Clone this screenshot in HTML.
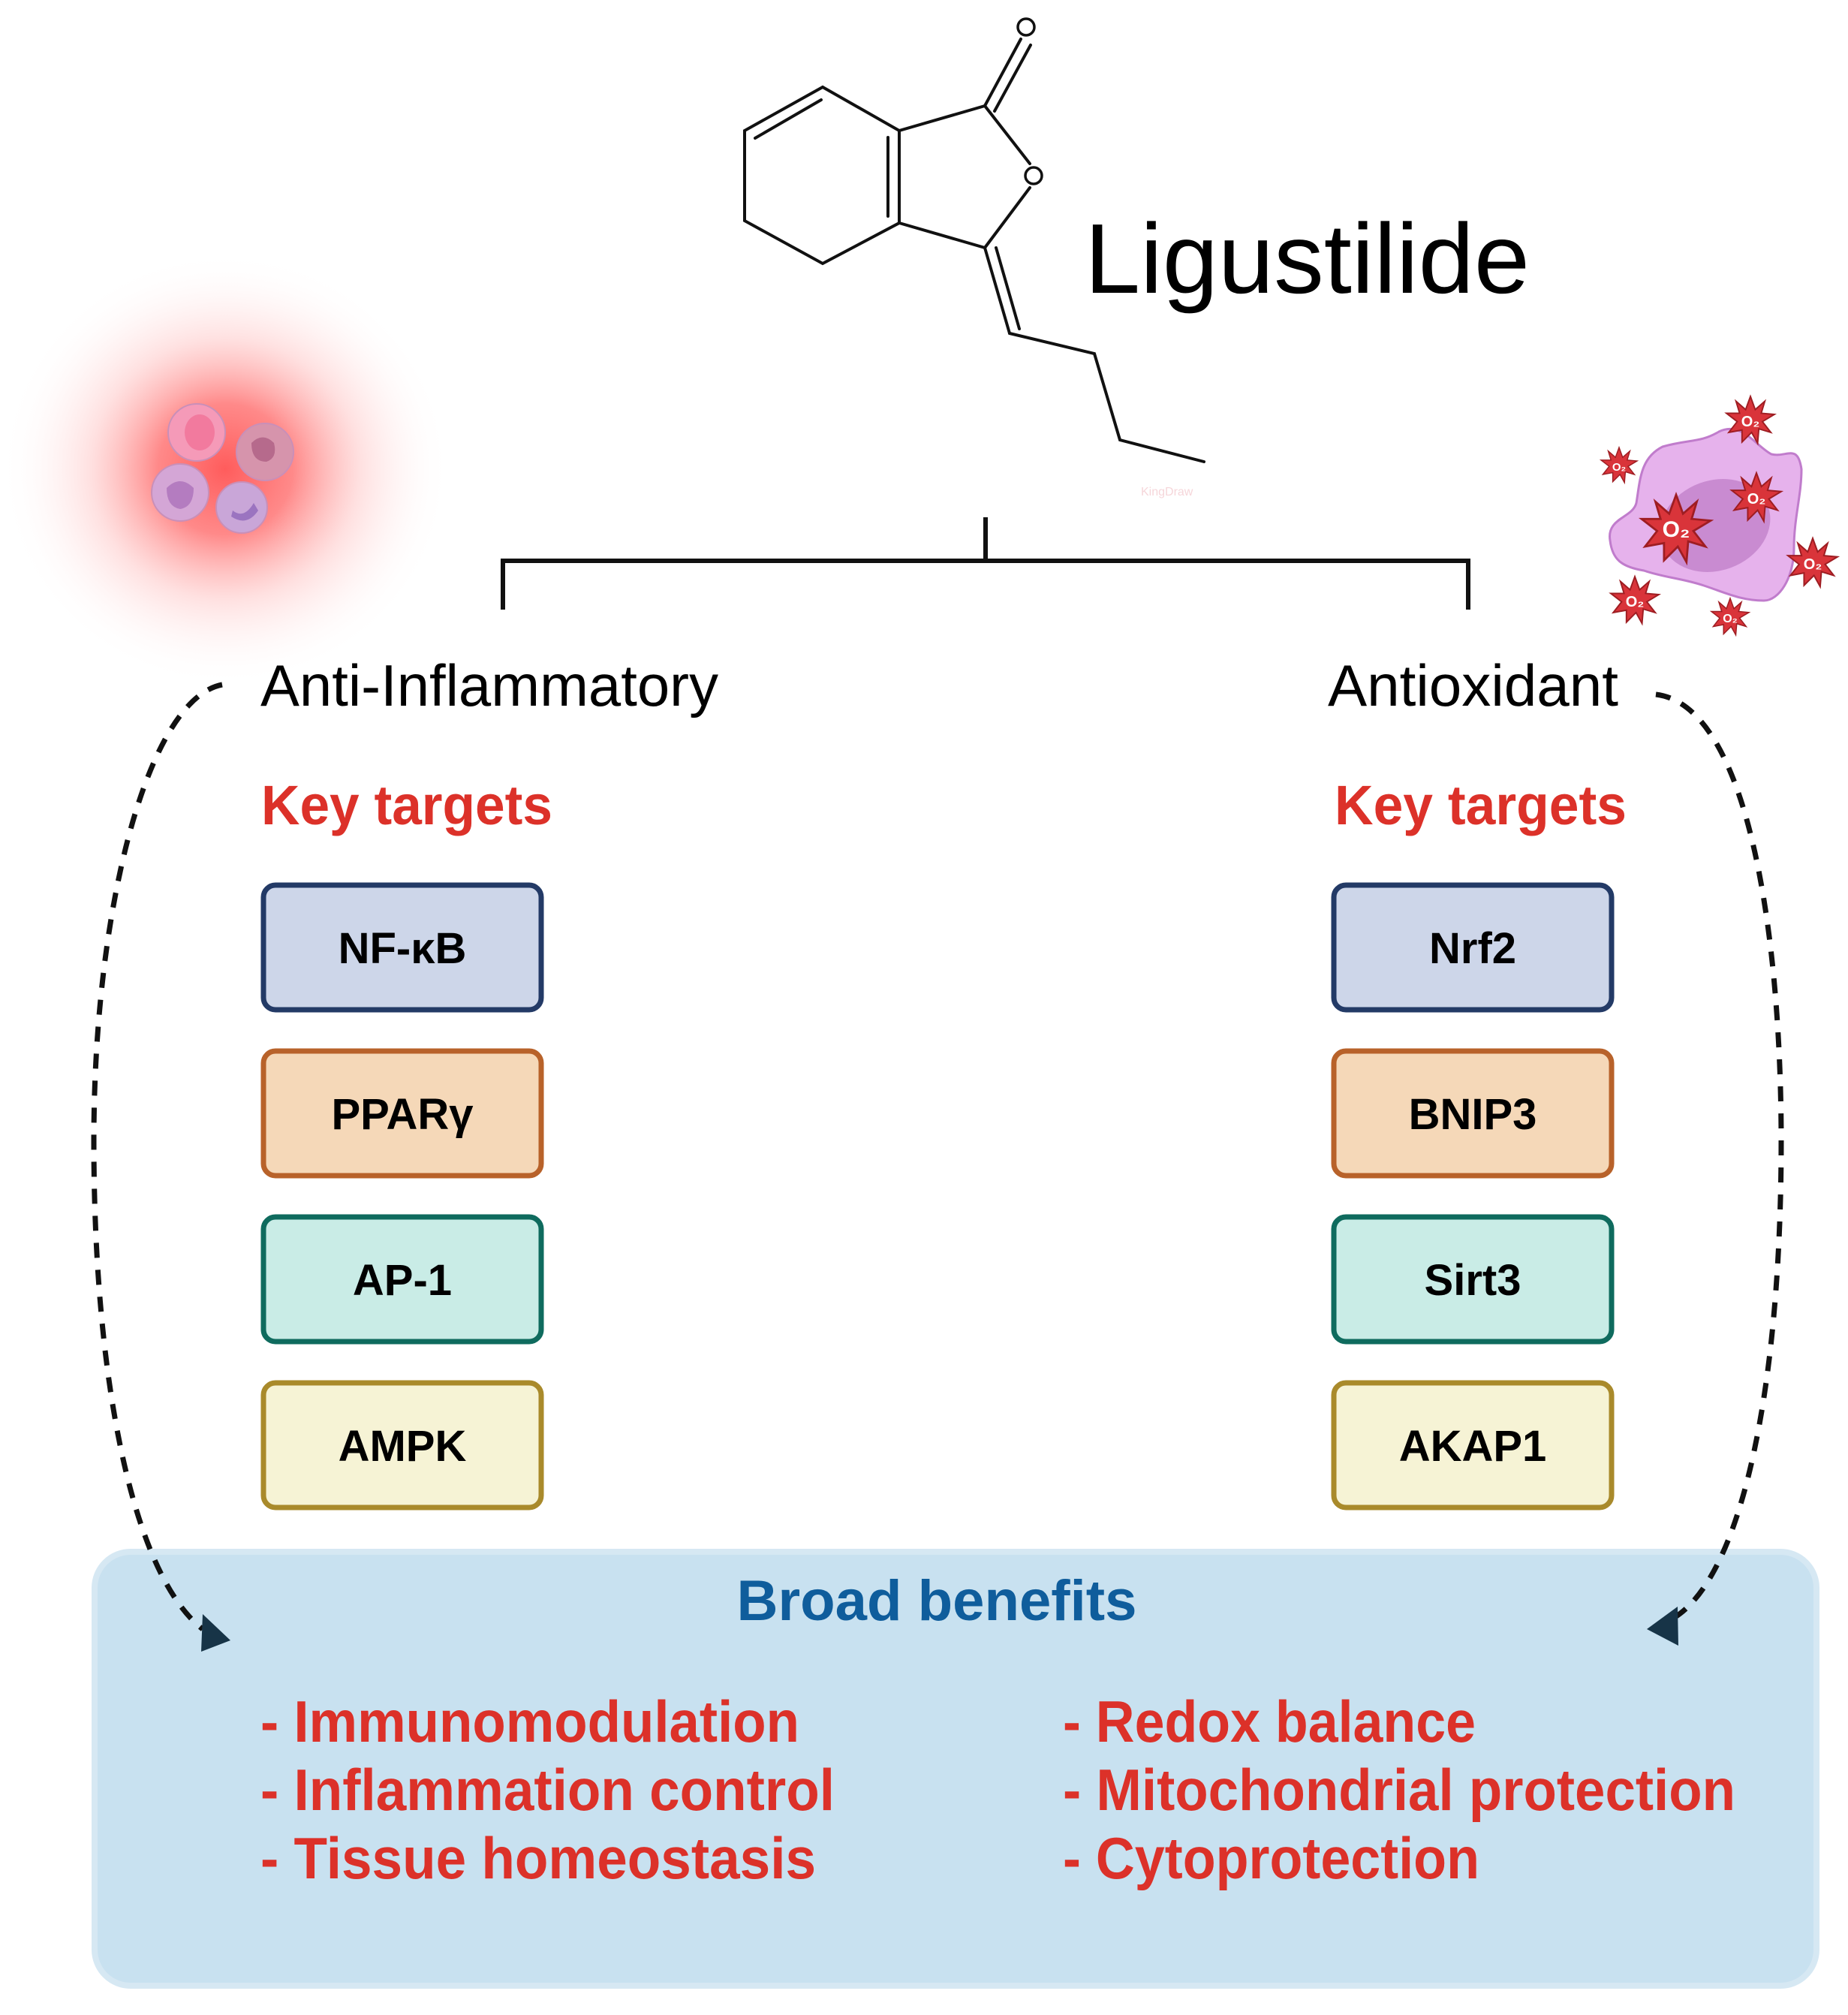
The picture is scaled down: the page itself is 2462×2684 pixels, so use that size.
<!DOCTYPE html>
<html><head><meta charset="utf-8"><style>
html,body{margin:0;padding:0;background:#fff;}
svg{display:block;}
</style></head><body>
<svg width="2462" height="2684" viewBox="0 0 2462 2684" xmlns="http://www.w3.org/2000/svg" font-family="Liberation Sans, sans-serif">
<defs>
<radialGradient id="glow" cx="0.5" cy="0.5" r="0.5">
<stop offset="0" stop-color="#ff4a4a" stop-opacity="0.9"/>
<stop offset="0.3" stop-color="#ff6262" stop-opacity="0.75"/>
<stop offset="0.6" stop-color="#ffa8a8" stop-opacity="0.35"/>
<stop offset="0.85" stop-color="#ffdede" stop-opacity="0.12"/>
<stop offset="1" stop-color="#ffffff" stop-opacity="0"/>
</radialGradient>
</defs>
<rect width="2462" height="2684" fill="#fff"/>

<!-- inflammation glow -->
<ellipse cx="300" cy="625" rx="300" ry="290" fill="url(#glow)"/>
<g stroke="#c98fb8" stroke-width="2">
<circle cx="262" cy="576" r="38" fill="#f59ab8"/>
<ellipse cx="266" cy="576" rx="20" ry="24" fill="#f27a9e" stroke="none"/>
<circle cx="353" cy="602" r="38" fill="#d694ac"/>
<path d="M335 590 q15 -15 30 0 q5 20 -10 25 q-20 0 -20 -25z" fill="#b66a8c" stroke="none"/>
<circle cx="240" cy="656" r="38" fill="#d4a6d6"/>
<path d="M222 650 q18 -18 36 0 q0 25 -18 28 q-18 -3 -18 -28z" fill="#b47cc0" stroke="none"/>
<circle cx="322" cy="676" r="34" fill="#c9a6d8"/>
<path d="M310 680 q15 12 28 -10 l6 10 q-15 22 -36 8z" fill="#9b74c0" stroke="none"/>
</g>

<!-- ROS cell -->
<path d="M2145 720 C2140 690 2175 690 2180 670 C2185 640 2185 610 2215 595 C2250 585 2265 590 2290 575 C2320 560 2340 595 2360 605 C2380 610 2395 590 2400 625 C2400 660 2390 690 2390 730 C2390 770 2370 800 2350 800 C2320 800 2300 790 2270 780 C2240 770 2220 770 2190 760 C2160 755 2148 745 2145 720Z" fill="#e6b2ec" stroke="#c07ccc" stroke-width="3"/>
<ellipse cx="2285" cy="700" rx="75" ry="60" fill="#c98bd1" transform="rotate(-20 2285 700)"/>
<g fill="#d9343a" stroke="#9e1d22" stroke-width="0.06">
<polygon points="0,-1 0.2,-0.45 0.6,-0.8 0.45,-0.3 1,-0.25 0.5,0.05 0.85,0.5 0.35,0.35 0.3,0.95 0.05,0.5 -0.35,0.9 -0.35,0.4 -0.9,0.5 -0.55,0.05 -1,-0.3 -0.45,-0.3 -0.6,-0.8 -0.2,-0.45" transform="translate(2332,560) scale(32)"/>
<polygon points="0,-1 0.2,-0.45 0.6,-0.8 0.45,-0.3 1,-0.25 0.5,0.05 0.85,0.5 0.35,0.35 0.3,0.95 0.05,0.5 -0.35,0.9 -0.35,0.4 -0.9,0.5 -0.55,0.05 -1,-0.3 -0.45,-0.3 -0.6,-0.8 -0.2,-0.45" transform="translate(2157,620) scale(24)"/>
<polygon points="0,-1 0.2,-0.45 0.6,-0.8 0.45,-0.3 1,-0.25 0.5,0.05 0.85,0.5 0.35,0.35 0.3,0.95 0.05,0.5 -0.35,0.9 -0.35,0.4 -0.9,0.5 -0.55,0.05 -1,-0.3 -0.45,-0.3 -0.6,-0.8 -0.2,-0.45" transform="translate(2233,705) scale(46)"/>
<polygon points="0,-1 0.2,-0.45 0.6,-0.8 0.45,-0.3 1,-0.25 0.5,0.05 0.85,0.5 0.35,0.35 0.3,0.95 0.05,0.5 -0.35,0.9 -0.35,0.4 -0.9,0.5 -0.55,0.05 -1,-0.3 -0.45,-0.3 -0.6,-0.8 -0.2,-0.45" transform="translate(2340,663) scale(33)"/>
<polygon points="0,-1 0.2,-0.45 0.6,-0.8 0.45,-0.3 1,-0.25 0.5,0.05 0.85,0.5 0.35,0.35 0.3,0.95 0.05,0.5 -0.35,0.9 -0.35,0.4 -0.9,0.5 -0.55,0.05 -1,-0.3 -0.45,-0.3 -0.6,-0.8 -0.2,-0.45" transform="translate(2415,750) scale(33)"/>
<polygon points="0,-1 0.2,-0.45 0.6,-0.8 0.45,-0.3 1,-0.25 0.5,0.05 0.85,0.5 0.35,0.35 0.3,0.95 0.05,0.5 -0.35,0.9 -0.35,0.4 -0.9,0.5 -0.55,0.05 -1,-0.3 -0.45,-0.3 -0.6,-0.8 -0.2,-0.45" transform="translate(2178,800) scale(32)"/>
<polygon points="0,-1 0.2,-0.45 0.6,-0.8 0.45,-0.3 1,-0.25 0.5,0.05 0.85,0.5 0.35,0.35 0.3,0.95 0.05,0.5 -0.35,0.9 -0.35,0.4 -0.9,0.5 -0.55,0.05 -1,-0.3 -0.45,-0.3 -0.6,-0.8 -0.2,-0.45" transform="translate(2305,822) scale(25)"/>
</g>
<g fill="#fff" font-weight="bold" text-anchor="middle">
<text x="2332" y="568" font-size="20">O₂</text>
<text x="2157" y="627" font-size="15">O₂</text>
<text x="2233" y="715" font-size="30">O₂</text>
<text x="2340" y="671" font-size="20">O₂</text>
<text x="2415" y="758" font-size="20">O₂</text>
<text x="2178" y="808" font-size="20">O₂</text>
<text x="2305" y="829" font-size="16">O₂</text>
</g>

<!-- molecule -->
<g stroke="#111" stroke-width="4" fill="none" stroke-linecap="round">
<polyline points="1096,116 992,174 992,294 1096,351 1198,297 1198,174 1096,116"/>
<line x1="1006" y1="184" x2="1094" y2="133"/>
<line x1="1183" y1="183" x2="1183" y2="288"/>
<line x1="1198" y1="174" x2="1312" y2="141"/>
<line x1="1312" y1="141" x2="1372" y2="218"/>
<line x1="1372" y1="250" x2="1312" y2="330"/>
<line x1="1198" y1="297" x2="1312" y2="330"/>
<line x1="1312" y1="141" x2="1360" y2="52"/>
<line x1="1325" y1="148" x2="1373" y2="60"/>
<line x1="1312" y1="330" x2="1345" y2="444"/>
<line x1="1327" y1="330" x2="1358" y2="438"/>
<polyline points="1345,444 1458,471 1492,586 1604,615"/>
</g>
<circle cx="1367" cy="36" r="11" fill="none" stroke="#111" stroke-width="3.5"/>
<circle cx="1377" cy="234" r="11" fill="none" stroke="#111" stroke-width="3.5"/>
<text x="1520" y="660" font-size="16" fill="#f6d6da">KingDraw</text>
<text x="1445" y="390" font-size="132" fill="#000" textLength="593" lengthAdjust="spacingAndGlyphs">Ligustilide</text>

<!-- bracket -->
<g stroke="#111" stroke-width="6" fill="none">
<line x1="1313" y1="689" x2="1313" y2="747"/>
<polyline points="670,812 670,747 1956,747 1956,812"/>
</g>

<!-- headings -->
<text x="347" y="940" font-size="78" fill="#000" textLength="610" lengthAdjust="spacingAndGlyphs">Anti-Inflammatory</text>
<text x="1769" y="940" font-size="78" fill="#000" textLength="387" lengthAdjust="spacingAndGlyphs">Antioxidant</text>
<text x="348" y="1098" font-size="74" font-weight="bold" fill="#dc3129" textLength="388" lengthAdjust="spacingAndGlyphs">Key targets</text>
<text x="1778" y="1098" font-size="74" font-weight="bold" fill="#dc3129" textLength="389" lengthAdjust="spacingAndGlyphs">Key targets</text>

<!-- boxes -->
<g stroke-width="7">
<rect x="351" y="1179" width="370" height="166" rx="16" fill="#cdd6e9" stroke="#233a66"/>
<rect x="351" y="1400" width="370" height="166" rx="16" fill="#f5d8b8" stroke="#b8622a"/>
<rect x="351" y="1621" width="370" height="166" rx="16" fill="#c9ece6" stroke="#0f6b5e"/>
<rect x="351" y="1842" width="370" height="166" rx="16" fill="#f6f3d5" stroke="#a98a2b"/>
<rect x="1777" y="1179" width="370" height="166" rx="16" fill="#cdd6e9" stroke="#233a66"/>
<rect x="1777" y="1400" width="370" height="166" rx="16" fill="#f5d8b8" stroke="#b8622a"/>
<rect x="1777" y="1621" width="370" height="166" rx="16" fill="#c9ece6" stroke="#0f6b5e"/>
<rect x="1777" y="1842" width="370" height="166" rx="16" fill="#f6f3d5" stroke="#a98a2b"/>
</g>
<g font-size="58" font-weight="bold" fill="#000" text-anchor="middle">
<text x="536" y="1283">NF-κB</text>
<text x="536" y="1504">PPARγ</text>
<text x="536" y="1725">AP-1</text>
<text x="536" y="1946">AMPK</text>
<text x="1962" y="1283">Nrf2</text>
<text x="1962" y="1504">BNIP3</text>
<text x="1962" y="1725">Sirt3</text>
<text x="1962" y="1946">AKAP1</text>
</g>

<!-- benefits box -->
<rect x="126" y="2067" width="2294" height="578" rx="48" fill="#c8e1f0" stroke="#d6e8f3" stroke-width="8"/>
<text x="1248" y="2158" font-size="76" font-weight="bold" fill="#0f5d9c" text-anchor="middle" textLength="533" lengthAdjust="spacingAndGlyphs">Broad benefits</text>
<g font-size="78" font-weight="bold" fill="#dc3129">
<text x="347" y="2320" textLength="718" lengthAdjust="spacingAndGlyphs">- Immunomodulation</text>
<text x="347" y="2411" textLength="765" lengthAdjust="spacingAndGlyphs">- Inflammation control</text>
<text x="347" y="2502" textLength="740" lengthAdjust="spacingAndGlyphs">- Tissue homeostasis</text>
<text x="1416" y="2320" textLength="550" lengthAdjust="spacingAndGlyphs">- Redox balance</text>
<text x="1416" y="2411" textLength="896" lengthAdjust="spacingAndGlyphs">- Mitochondrial protection</text>
<text x="1416" y="2502" textLength="555" lengthAdjust="spacingAndGlyphs">- Cytoprotection</text>
</g>

<!-- dashed arrows -->
<g stroke="#111" stroke-width="7" fill="none" stroke-dasharray="20 16">
<path d="M296 912 C200 930 125 1200 125 1520 C125 1850 180 2100 270 2170"/>
<path d="M2206 925 C2330 940 2373 1250 2373 1520 C2373 1850 2320 2100 2230 2155"/>
</g>
<polygon points="270,2150 307,2185 268,2200" fill="#173447"/>
<polygon points="2235,2140 2194,2170 2236,2192" fill="#173447"/>
</svg>
</body></html>
